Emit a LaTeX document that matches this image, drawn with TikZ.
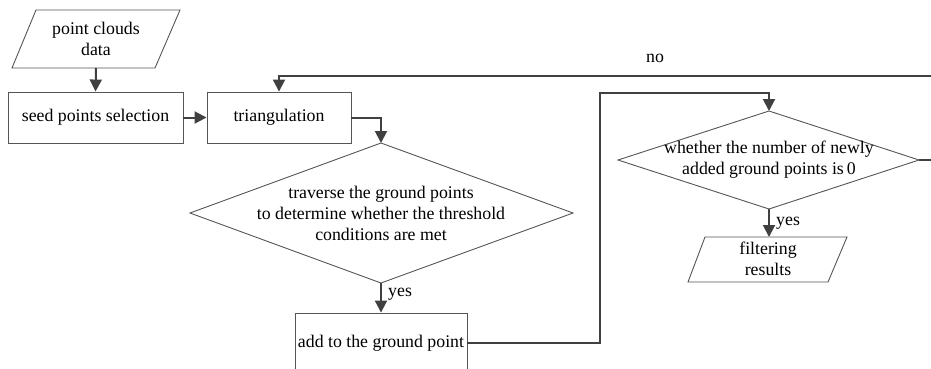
\documentclass[tikz,border=0pt]{standalone}
\usepackage{fontspec}
\setmainfont{Liberation Serif}
\usetikzlibrary{arrows.meta}
\definecolor{ln}{HTML}{404040}
\definecolor{bx}{HTML}{555555}
\tikzset{
  outline/.style={draw=bx, line width=0.9pt},
  box/.style={outline, rectangle, inner sep=0pt},
  txt/.style={align=center, inner sep=0pt, text=black},
  conn/.style={draw=ln, line width=2pt},
  arr/.style={conn, -{Triangle[length=12pt,width=12pt]}},
  lbl/.style={inner sep=0pt, text=black}
}
\begin{document}
\begin{tikzpicture}[x=1pt,y=-1pt,font=\fontsize{17.8}{21}\selectfont]
\useasboundingbox (0,0) rectangle (931,368);
\clip (0,0) rectangle (931,368);

% input parallelogram
\coordinate (pc1) at (36,10);
\coordinate (pc2) at (180,10);
\coordinate (pc3) at (155,68);
\coordinate (pc4) at (12,68);
\coordinate (pcb) at (96,68);
\draw[outline] (pc1) -- (pc2) -- (pc3) -- (pc4) -- cycle;
\node[txt] (pc) at (96,39) {point clouds\\data};

% boxes
\node[box, minimum width=175pt, minimum height=51pt] (seed) at (95.5,117.5) {seed points selection};
\node[box, minimum width=144pt, minimum height=51pt] (tri) at (279,117.5) {triangulation};
\node[box, minimum width=172pt, minimum height=60pt] (add) at (381,343) {add to the ground point};

% diamond 1
\coordinate (d1t) at (381,143);
\coordinate (d1l) at (190,213);
\coordinate (d1r) at (573,213);
\coordinate (d1b) at (381,283);
\draw[outline] (d1t) -- (d1r) -- (d1b) -- (d1l) -- cycle;
\node[txt] (d1) at (381,213) {traverse the ground points\\to determine whether the threshold\\conditions are met};

% diamond 2
\coordinate (d2t) at (769,111);
\coordinate (d2l) at (618,160);
\coordinate (d2r) at (919,160);
\coordinate (d2b) at (769,209);
\draw[outline] (d2t) -- (d2r) -- (d2b) -- (d2l) -- cycle;
\node[txt] (d2) at (769,160) {whether the number of newly\\added ground points is\,0};

% output parallelogram
\coordinate (fr1) at (705,237);
\coordinate (fr2) at (847,237);
\coordinate (fr3) at (828,282);
\coordinate (fr4) at (688,282);
\coordinate (frt) at (769,237);
\draw[outline] (fr1) -- (fr2) -- (fr3) -- (fr4) -- cycle;
\node[txt] (fr) at (768,259) {filtering\\results};

% routing points
\coordinate (k1) at (600,93);
\coordinate (k2) at (940,76);

% connectors
\draw[arr] (pcb) -- (seed.north);
\draw[arr] (seed.east) -- (tri.west);
\draw[arr] (tri.east) -| (d1t);
\draw[arr] (d1b) -- (add.north);
\draw[arr] (add.east) -| (k1) -| (d2t);
\draw[arr] (d2b) -- (frt);
\draw[arr] (d2r) -| (k2) -| (tri.north);

% labels
\node[lbl, anchor=west] (yes1) at (388,294) {yes};
\node[lbl, anchor=west] (yes2) at (776,223) {yes};
\node[lbl] (no) at (655,58) {no};
\end{tikzpicture}
\end{document}
